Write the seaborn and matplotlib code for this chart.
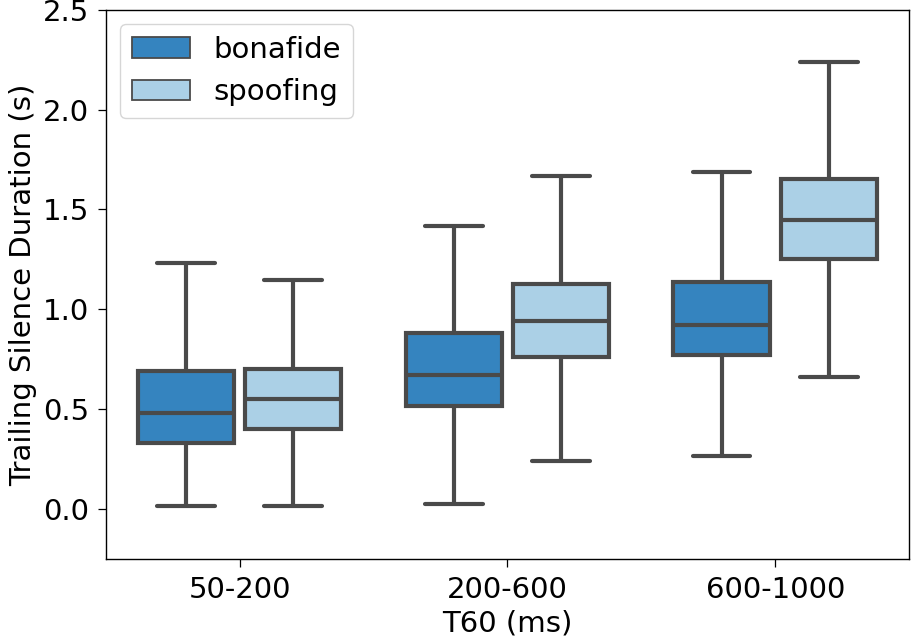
import numpy as np
import pandas as pd
import matplotlib
matplotlib.use("Agg")
import matplotlib.pyplot as plt
import seaborn as sns

categories = ["50-200", "200-600", "600-1000"]
hues = ["bonafide", "spoofing"]
# five-number summaries: [min, q1, median, q3, max]
bonafide_stats = [
    [0.015, 0.33, 0.48, 0.69, 1.23],
    [0.025, 0.515, 0.67, 0.88, 1.415],
    [0.265, 0.77, 0.92, 1.135, 1.685],
]
spoofing_stats = [
    [0.015, 0.40, 0.55, 0.70, 1.145],
    [0.24, 0.76, 0.94, 1.125, 1.665],
    [0.66, 1.25, 1.445, 1.65, 2.24],
]

rows = []
for cat, b, s in zip(categories, bonafide_stats, spoofing_stats):
    for v in b:
        rows.append((cat, "bonafide", v))
    for v in s:
        rows.append((cat, "spoofing", v))
df = pd.DataFrame(rows, columns=["T60 (ms)", "label", "Trailing Silence Duration (s)"])

sns.set_theme(style="ticks")
plt.rcParams["font.family"] = ["DejaVu Sans"]
plt.rcParams["text.color"] = "black"
plt.rcParams["axes.labelcolor"] = "black"
plt.rcParams["xtick.color"] = "black"
plt.rcParams["ytick.color"] = "black"

fig, ax = plt.subplots(figsize=(9.11, 6.44), dpi=100)
sns.boxplot(data=df, x="T60 (ms)", y="Trailing Silence Duration (s)", hue="label",
            order=categories, hue_order=hues,
            palette={"bonafide": "#3584bf", "spoofing": "#abd0e6"},
            saturation=1, whis=(0, 100), showfliers=False, width=0.8, gap=0.1,
            linecolor="#4a4a4a", linewidth=3.0, capwidths=0.215, ax=ax)
ax.set_ylim(-0.25, 2.5)
ax.set_yticks([0.0, 0.5, 1.0, 1.5, 2.0, 2.5])
ax.set_yticklabels(["0.0", "0.5", "1.0", "1.5", "2.0", "2.5"])
ax.tick_params(labelsize=21, width=0.9, length=6, pad=6)
ax.set_xlabel("T60 (ms)", fontsize=21)
ax.set_ylabel("Trailing Silence Duration (s)", fontsize=21)
for sp in ax.spines.values():
    sp.set_visible(True)
    sp.set_linewidth(1.0)
    sp.set_color("black")
leg = ax.legend(loc="upper left", fontsize=21, title=None)
for h in leg.legend_handles:
    h.set_linewidth(1.3)
fig.subplots_adjust(left=0.116, right=0.998, top=0.985, bottom=0.132)
fig.savefig("out.png", dpi=100)
